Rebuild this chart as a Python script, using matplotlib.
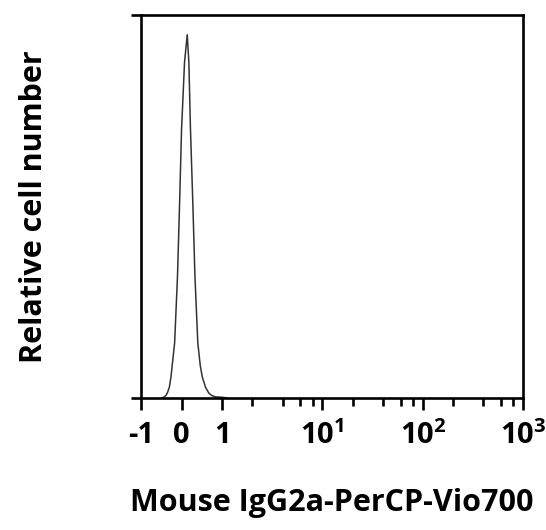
import matplotlib
matplotlib.use("Agg")
import matplotlib.pyplot as plt

# histogram trace (fluorescence, relative count)
fluor = [-0.48, -0.44, -0.39, -0.35, -0.30, -0.26, -0.17, -0.10, -0.05, 0.0,
         0.074, 0.14, 0.18, 0.22, 0.28, 0.33, 0.40, 0.46, 0.51, 0.59,
         0.67, 0.75, 0.84, 1.0, 1.12]
counts = [0.0, 0.2, 0.6, 1.3, 2.8, 5.5, 14.4, 31.6, 50.0, 70.0,
          87.7, 94.8, 87.7, 70.0, 50.0, 31.6, 14.4, 8.5, 5.5, 2.8,
          1.3, 0.6, 0.3, 0.2, 0.0]

major_ticks = [-1, 0, 1, 10, 100, 1000]
major_labels = ["-1", "0", "1", r"$10^{1}$", r"$10^{2}$", r"$10^{3}$"]
minor_ticks = [2, 4, 6, 8, 20, 40, 60, 80, 200, 400, 600, 800]

plt.rcParams['font.family'] = ['Open Sans', 'DejaVu Sans']
plt.rcParams['mathtext.fontset'] = 'custom'
plt.rcParams['mathtext.rm'] = 'Open Sans:bold'
plt.rcParams['mathtext.default'] = 'rm'

fig = plt.figure(figsize=(5.46, 5.30), dpi=100)
ax = fig.add_axes([0.258, 0.249, 0.700, 0.723])

ax.plot(fluor, counts, color='#333333', linewidth=1.1)

ax.set_xscale('symlog', linthresh=1, linscale=0.365)
ax.set_xlim(-1, 1000)
ax.set_ylim(0, 100)

ax.set_xticks(major_ticks)
ax.set_xticklabels(major_labels)
ax.set_xticks(minor_ticks, minor=True)
ax.set_yticks([0, 100])
ax.set_yticklabels([])

for s in ax.spines.values():
    s.set_linewidth(1.9)

ax.tick_params(axis='x', which='major', length=8.5, width=1.9, pad=8,
               labelsize=21)
ax.tick_params(axis='x', which='minor', length=5.8, width=1.9)
ax.tick_params(axis='y', which='major', length=7.5, width=1.9)
for lab in ax.get_xticklabels():
    lab.set_fontweight('bold')

ax.set_xlabel('Mouse IgG2a-PerCP-Vio700', fontsize=22, fontweight='bold')
ax.set_ylabel('Relative cell number', fontsize=22, fontweight='bold')
ax.xaxis.set_label_coords(0.5, -0.235)
ax.yaxis.set_label_coords(-0.24, 0.5)

fig.savefig('out.png', dpi=100)
